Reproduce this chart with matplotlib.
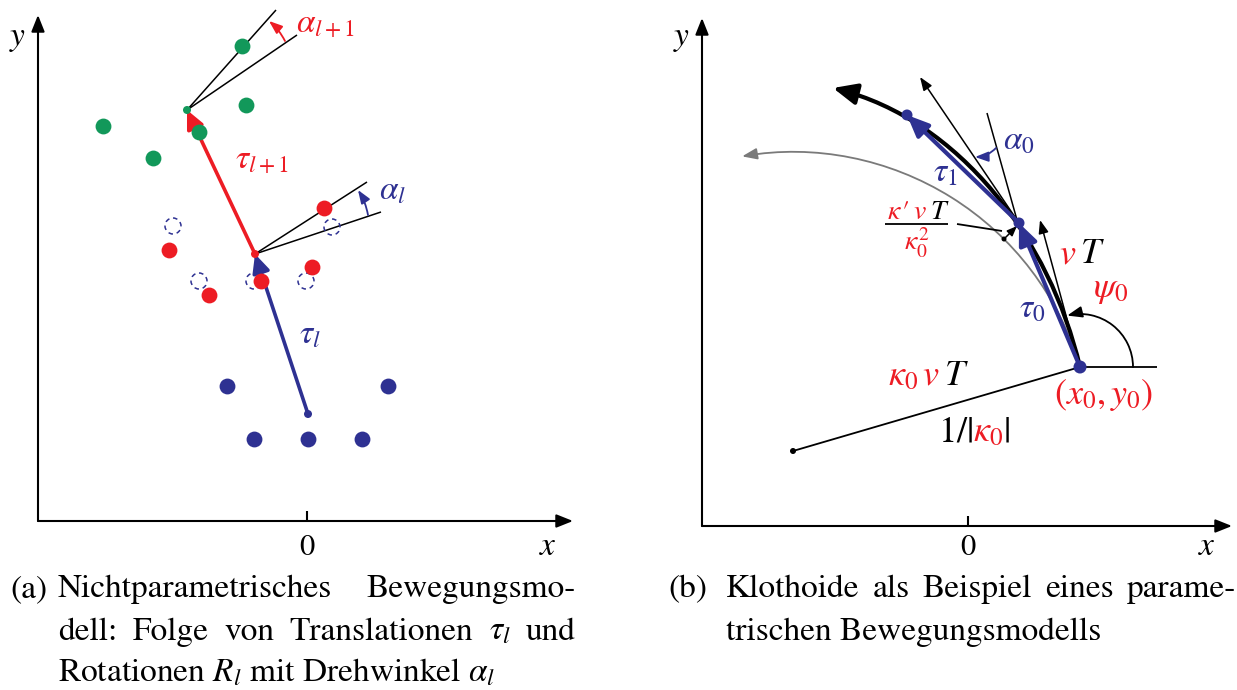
import numpy as np
import matplotlib
matplotlib.use("Agg")
import matplotlib.pyplot as plt
from matplotlib.patches import FancyArrowPatch, Circle
from matplotlib.path import Path
from matplotlib.transforms import Affine2D

plt.rcParams['font.family'] = 'STIXGeneral'
plt.rcParams['mathtext.fontset'] = 'stix'

RED = '#ED1C24'
BLUE = '#2E3192'
GREEN = '#12985A'
GREY = '#7A7A7A'
CAP = 24

# ---------------- left panel: point sets (pixel coords) ----------------
blue_x = [227, 388, 254, 308, 362]
blue_y = [386, 386, 439, 439, 439]
red_x = [324, 169, 312, 261, 209]
red_y = [208, 250, 267, 281, 295]
green_x = [242, 246, 103, 199, 153]
green_y = [46, 105, 126, 132, 158]
ghost_x = [173, 199, 254, 306, 332]
ghost_y = [226, 281, 281, 281, 227]

# poses of the sequence and their heading rays
pose_l = [(308, 414), (255, 254), (187, 110)]
rays_l1 = [(367, 182), (381, 212)]
rays_l2 = [(276, 10), (297, 35)]

# ---------------- right panel: clothoid sketch ----------------
start0 = (1080, 367)
pose_r1 = (1019, 223)
pose_r2 = (907, 115)
clothoid_ctrl = [(1080, 367), (1050, 240), (960, 120), (833, 88)]
circle_center = (793, 451)
circle_radius = 299
circle_angles = (16.3, 99.8)
psi_radius = 53
psi_angles = (0, 104)

fig = plt.figure(figsize=(12.37, 6.90), dpi=100)
ax = fig.add_axes([0, 0, 1, 1])
ax.set_xlim(0, 1237)
ax.set_ylim(690, 0)
ax.axis('off')


def arrow(p, q, color='k', lw=1.0, hl=0.6, hw=0.3, ms=20, z=3, **kw):
    a = FancyArrowPatch(p, q, arrowstyle=f'-|>,head_length={hl},head_width={hw}',
                        mutation_scale=ms, color=color, lw=lw, shrinkA=0, shrinkB=0,
                        zorder=z, **kw)
    ax.add_patch(a)
    return a


def path_arrow(path, color='k', lw=1.0, hl=0.6, hw=0.3, ms=20, z=3):
    a = FancyArrowPatch(path=path, arrowstyle=f'-|>,head_length={hl},head_width={hw}',
                        mutation_scale=ms, color=color, lw=lw, zorder=z)
    ax.add_patch(a)


def line(p, q, color='k', lw=1.1, z=2):
    ax.plot([p[0], q[0]], [p[1], q[1]], color=color, lw=lw, zorder=z,
            solid_capstyle='butt')


def dot(p, r, color, z=5):
    ax.add_patch(Circle(p, r, color=color, zorder=z, lw=0))


renderer = fig.canvas.get_renderer()


def rich(x, y, parts, size=22):
    for s, c in parts:
        t = ax.text(x, y, s, color=c, fontsize=size, ha='left', va='baseline')
        x += t.get_window_extent(renderer).width


def justify(words, x0, x1, y, size=CAP):
    texts = [ax.text(0, y, w, fontsize=size, ha='left', va='baseline') for w in words]
    widths = [t.get_window_extent(renderer).width for t in texts]
    gap = (x1 - x0 - sum(widths)) / (len(words) - 1)
    x = x0
    for t, w in zip(texts, widths):
        t.set_x(x)
        x += w + gap


# ---------------- axes of both panels ----------------
for (xa, ya, xe, ye, x0) in [(38, 521, 573, 15, 307), (702, 526, 1232, 18, 968)]:
    arrow((xa, ya), (xe, ya), lw=1.5, hl=0.5, hw=0.2)
    arrow((xa, ya), (xa, ye), lw=1.5, hl=0.5, hw=0.2)
    line((x0, ya - 10), (x0, ya), lw=1.5)
    ax.text(x0, 555, '$0$', fontsize=22, ha='center', va='baseline')
    ax.text(xe - 25, 555, '$x$', fontsize=24, ha='center', va='baseline')
    ax.text(xa - 20, 45, '$y$', fontsize=24, ha='center', va='baseline')

# ---------------- left panel ----------------
ax.scatter(blue_x, blue_y, s=130, color=BLUE, zorder=5, lw=0)
ax.scatter(red_x, red_y, s=130, color=RED, zorder=5, lw=0)
ax.scatter(green_x, green_y, s=130, color=GREEN, zorder=5, lw=0)
for gx, gy in zip(ghost_x, ghost_y):
    ax.add_patch(Circle((gx, gy), 8, fill=False, ec=BLUE, lw=1.1,
                        ls=(0, (3, 2.5)), zorder=4))

for q in rays_l1:
    line(pose_l[1], q)
for q in rays_l2:
    line(pose_l[2], q)

arrow(pose_l[0], pose_l[1], color=BLUE, lw=2.6, hl=0.55, hw=0.26, z=4)
arrow(pose_l[1], pose_l[2], color=RED, lw=2.6, hl=0.55, hw=0.26, z=4)
dot(pose_l[0], 4, BLUE)
dot(pose_l[1], 4, RED)
dot(pose_l[2], 4, GREEN)

arrow((368, 215), (358, 190), color=BLUE, lw=1.3, hl=0.4, hw=0.15,
      connectionstyle='arc3,rad=0.1')
arrow((285, 41), (269, 21), color=RED, lw=1.3, hl=0.4, hw=0.15,
      connectionstyle='arc3,rad=0.1')

ax.text(296, 33, r'$\alpha_{l+1}$', color=RED, fontsize=24, va='baseline')
ax.text(379, 200, r'$\alpha_{l}$', color=BLUE, fontsize=24, va='baseline')
ax.text(235, 168, r'$\tau_{l+1}$', color=RED, fontsize=24, va='baseline')
ax.text(299, 344, r'$\tau_{l}$', color=BLUE, fontsize=24, va='baseline')

# ---------------- right panel ----------------
# osculating circle arc
arc = Path.arc(*circle_angles)
arc = arc.transformed(Affine2D().scale(circle_radius, -circle_radius).translate(*circle_center))
path_arrow(arc, color=GREY, lw=1.3, hl=0.45, hw=0.17, z=2)
line(circle_center, start0, lw=1.3)
dot(circle_center, 3, 'k')

# heading angle psi0
psi = Path.arc(*psi_angles)
psi = psi.transformed(Affine2D().scale(psi_radius, -psi_radius).translate(*start0))
path_arrow(psi, lw=1.3, hl=0.45, hw=0.17)
line(start0, (1157, 367), lw=1.3)

# tangent / heading arrows
arrow(start0, (1040, 220), lw=1.1, hl=0.4, hw=0.15)
arrow(pose_r1, (920, 77), lw=1.1, hl=0.4, hw=0.15)
line((1017, 220), (987, 113), lw=1.1)
arrow((996, 148), (975, 157), color=BLUE, lw=1.3, hl=0.4, hw=0.15,
      connectionstyle='arc3,rad=-0.2')

# clothoid
cl = Path(clothoid_ctrl, [Path.MOVETO, Path.CURVE4, Path.CURVE4, Path.CURVE4])
path_arrow(cl, lw=3.0, hl=0.72, hw=0.32, z=3)

# translations
arrow(start0, pose_r1, color=BLUE, lw=3.0, hl=0.65, hw=0.28, z=4)
arrow(pose_r1, pose_r2, color=BLUE, lw=3.0, hl=0.65, hw=0.28, z=4)
dot(start0, 6.5, BLUE)
dot(pose_r1, 5.5, BLUE)
dot(pose_r2, 5.5, BLUE)

# curvature-change offset
line((957, 224), (1002, 231), lw=1.3)
dot((1004, 239), 2.5, 'k')
arrow((1004, 239), (1017, 226), lw=1.1, hl=0.3, hw=0.12)
line((885, 224), (948, 224), lw=1.3)
rich(887, 219, [(r'$\kappa$', RED), ('\u2032', RED), (r'$\,v$', RED), (r'$\,T$', 'k')], size=20)
ax.text(917, 251, r'$\kappa_0^2$', color=RED, fontsize=20, ha='center', va='baseline')

# labels
ax.text(1003, 149, r'$\alpha_0$', color=BLUE, fontsize=24, va='baseline')
ax.text(933, 181, r'$\tau_1$', color=BLUE, fontsize=24, va='baseline')
ax.text(1019, 318, r'$\tau_0$', color=BLUE, fontsize=24, va='baseline')
rich(1059, 263, [(r'$v$', RED), (r'$\,T$', 'k')], size=26)
ax.text(1093, 297, r'$\psi_0$', color=RED, fontsize=26, va='baseline')
rich(888, 385, [(r'$\kappa_0\,v$', RED), (r'$\,T$', 'k')], size=26)
rich(938, 441, [(r'$1/|$', 'k'), (r'$\kappa_0$', RED), (r'$|$', 'k')], size=26)
ax.text(1054, 404, r'$(x_0,y_0)$', color=RED, fontsize=26, va='baseline')

# ---------------- captions ----------------
ax.text(10, 597, '(a)', fontsize=CAP, va='baseline')
justify(['Nichtparametrisches', 'Bewegungsmo-'], 58, 576, 597)
justify(['dell:', 'Folge', 'von', 'Translationen', r'$\tau_l$', 'und'], 58, 576, 640)
ax.text(58, 682, r'Rotationen $R_l$ mit Drehwinkel $\alpha_l$', fontsize=CAP, va='baseline')
ax.text(668, 597, '(b)', fontsize=CAP, va='baseline')
justify(['Klothoide', 'als', 'Beispiel', 'eines', 'parame-'], 726, 1236, 597)
ax.text(726, 640, 'trischen Bewegungsmodells', fontsize=CAP, va='baseline')

fig.savefig('out.png', dpi=100)
